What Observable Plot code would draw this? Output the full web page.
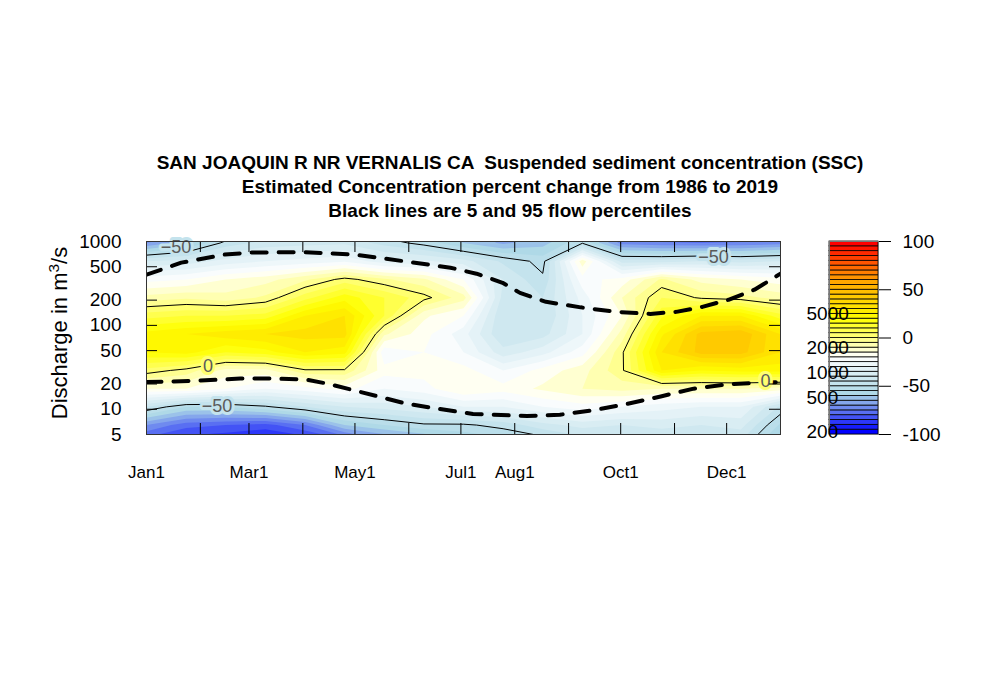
<!DOCTYPE html>
<html>
<head>
<meta charset="utf-8">
<script src="https://cdn.jsdelivr.net/npm/d3@7"></script>
<script src="https://cdn.jsdelivr.net/npm/@observablehq/plot@0.6"></script>
<style>
  html, body { margin: 0; padding: 0; background: #fff; }
  #wrap { position: relative; width: 1000px; height: 700px; overflow: hidden; font-family: "Liberation Sans", Arial, Helvetica, sans-serif; }
  #wrap > svg { position: absolute; top: 0; margin: 0; }
  #title { position: absolute; left: 0; top: 151px; width: 1020px; text-align: center; font-weight: bold; font-size: 19px; line-height: 24px; white-space: pre; color: #000; }
  #ylab { position: absolute; left: 60px; top: 333px; transform: translate(-50%, -50%) rotate(-90deg); font-size: 22px; white-space: nowrap; color: #000; }
  #ylab sup { font-size: 0.7em; line-height: 0; }
</style>
</head>
<body>
<div id="wrap">
  <div id="title"></div>
  <div id="ylab">Discharge in m<sup>3</sup>/s</div>
</div>
<script>
// ---------------- data ----------------
const titleLines = [
  "SAN JOAQUIN R NR VERNALIS CA  Suspended sediment concentration (SSC)",
  "Estimated Concentration percent change from 1986 to 2019",
  "Black lines are 5 and 95 flow percentiles"
];
const yTicks = [5, 10, 20, 50, 100, 200, 500, 1000];
const monthStartDays = [0, 31, 59, 90, 120, 151, 181, 212, 243, 273, 304, 334];
const xLabelDays = [0, 59, 120, 181, 212, 273, 334];
const xLabels = ["Jan1", "Mar1", "May1", "Jul1", "Aug1", "Oct1", "Dec1"];
const keyTicks = [-100, -50, 0, 50, 100];
const keyExtraLabels = [200, 500, 1000, 2000, 5000];

// surface grid: columns = day of year, rows = discharge in m3/s (top to bottom)
const gridDays = [0, 22.8, 45.6, 68.4, 91.3, 114.1, 136.9, 159.7, 182.5, 205.3, 228.1, 250.9, 273.8, 296.6, 319.4, 342.2, 365];
const gridQ = [1581, 959, 582, 353, 214, 130, 78.9, 47.9, 29.0, 17.6, 10.7, 6.49, 3.93];
const pctChange = [
  [-85, -80, -65, -58, -52, -50, -58, -62, -65, -72, -68, -62, -88, -90, -92, -92, -92],
  [-70, -62, -48, -43, -42, -41, -47, -52, -60, -66, -62, -50.5, -72, -74, -75, -74, -72],
  [-40, -38, -33, -30, -28, -26, -33, -34, -38, -46, -52, -12, -42, -42, -40, -42, -40],
  [-22, -20, -15, -12, -6, 2, -4, -9, -20, -40, -49, -22, -18, -4, -12, -15, -18],
  [-8, -6, -8, -4, 8, 18, 10, 2, -8, -42, -45, -28, -10, 5, -1, -3, -7],
  [8, 10, 10, 12, 25, 30, 10, -14, -20, -45, -45, -30, -15, 14, 25, 25, 12],
  [22, 25, 28, 30, 32, 32, -9, -18, -28, -45, -42, -30, -8, 24, 42, 44, 30],
  [20, 22, 15, 18, 25, 22, -24, -20, -25, -38, -32, -22, -1, 30, 42, 42, 30],
  [3, -2, -12, -12, -1, -1, -18, -18, -18, -25, -18, -12, -1, 25, 20, 22, 22],
  [-15, -15, -20, -25, -22, -18, -25, -22, -15, -18, -14, -10, -8, -10, -10, -10, -12],
  [-45, -55, -55, -51, -45, -40, -38, -35, -30, -30, -25, -22, -25, -28, -30, -30, -46],
  [-70, -78, -80, -82, -75, -60, -55, -51, -51, -48, -42, -38, -40, -38, -40, -38, -56],
  [-85, -90, -92, -95, -92, -85, -75, -70, -62, -58, -55, -50, -50, -48, -50, -46, -65]
];
const contourLineLevels = [-50, 0];

// 95th and 5th flow percentiles (m3/s)
const upperDays = [0, 20, 45, 60, 90, 120, 150, 175, 190, 205, 215, 230, 250, 270, 290, 305, 320, 335, 350, 365];
const upperQ = [402, 560, 698, 738, 748, 698, 575, 487, 413, 322, 244, 191, 164, 145, 137, 145, 166, 202, 266, 413];
const lowerDays = [0, 25, 54, 73, 92, 104, 121, 150, 181, 188, 219, 238, 257, 277, 296, 315, 334, 353, 365];
const lowerQ = [21.1, 21.7, 23.2, 23.2, 22.6, 20.2, 16.5, 11.6, 9.2, 8.8, 8.3, 8.6, 9.7, 11.6, 14.2, 17.6, 19.8, 20.8, 21.1];

// contour labels
const labelDays = [17, 35.4, 40.6, 326.4, 356.4];
const labelQ = [847, 33, 11.0, 652, 21.5];
const labelLevels = [-50, 0, -50, -50, 0];

// ---------------- scales / helpers ----------------
const lg = Math.log10;
const levels = d3.range(-100, 101, 5);
const paletteStops = ["blue", "lightblue", "white", "yellow", "orange", "red"];
const ramp = d3.piecewise(d3.interpolateRgb, paletteStops);
const palette = d3.range(levels.length - 1).map(i => ramp(i / (levels.length - 2)));
const colorScale = {type: "threshold", domain: levels.slice(1, -1), range: palette};

const W = gridDays.length, H = gridQ.length;
const dayStep = gridDays[1] - gridDays[0];
const logStep = lg(gridQ[0]) - lg(gridQ[1]);
const gx1 = gridDays[0] - dayStep / 2, gx2 = gridDays[W - 1] + dayStep / 2;
const gy1 = lg(gridQ[0]) + logStep / 2, gy2 = lg(gridQ[H - 1]) - logStep / 2;
const flat = pctChange.flat();

const upperData = upperDays.map((d, i) => ({day: d, lq: lg(upperQ[i])}));
const lowerData = lowerDays.map((d, i) => ({day: d, lq: lg(lowerQ[i])}));
const labelData = labelDays.map((d, i) => ({day: d, lq: lg(labelQ[i]), level: labelLevels[i]}));

const FONT = "'Liberation Sans', Arial, Helvetica, sans-serif";
const mL = 146, mR = 220, mT = 241, mB = 266;
const plotW = 1000 - mL - mR, plotH = 700 - mT - mB;
const tickLen = 11;

document.getElementById("title").textContent = titleLines.join("\n");

const grid = {width: W, height: H, x1: gx1, x2: gx2, y1: gy1, y2: gy2};
const yTickLogs = yTicks.map(lg);

const main = Plot.plot({
  width: 1000, height: 700,
  marginLeft: mL, marginRight: mR, marginTop: mT, marginBottom: mB,
  style: {fontFamily: FONT, fontSize: "17px", color: "#000", background: "transparent", overflow: "visible"},
  x: {domain: [0, 365]},
  y: {domain: [lg(yTicks[0]), lg(yTicks[yTicks.length - 1])]},
  color: colorScale,
  marks: [
    Plot.contour(flat, {...grid, fill: Plot.identity, thresholds: levels.slice(0, -1), clip: true}),
    Plot.contour(flat, {...grid, value: Plot.identity, thresholds: contourLineLevels, stroke: "#000", strokeWidth: 1, fill: "none", clip: true}),
    Plot.line(upperData, {x: "day", y: "lq", stroke: "#000", strokeWidth: 4, strokeDasharray: "15,12", clip: true}),
    Plot.line(lowerData, {x: "day", y: "lq", stroke: "#000", strokeWidth: 4, strokeDasharray: "15,12", clip: true}),
    Plot.text(labelData, {x: "day", y: "lq", text: d => d.level < 0 ? "\u2212" + (-d.level) : String(d.level),
      fill: "#5a5a5a", stroke: "level", strokeWidth: 6, paintOrder: "stroke", fontSize: 18}),
    Plot.tickY(yTickLogs, {y: d => d, insetRight: plotW - tickLen, stroke: "#000"}),
    Plot.tickY(yTickLogs, {y: d => d, insetLeft: plotW - tickLen, stroke: "#000"}),
    Plot.tickX(monthStartDays, {x: d => d, insetTop: plotH - tickLen, stroke: "#000"}),
    Plot.tickX(monthStartDays, {x: d => d, insetBottom: plotH - tickLen, stroke: "#000"}),
    Plot.frame({stroke: "#333"}),
    Plot.axisY({ticks: yTickLogs, tickSize: 0, tickPadding: 25, tickFormat: d => String(Math.round(10 ** d)), fontSize: 19, label: null}),
    Plot.axisX({ticks: xLabelDays, tickSize: 0, tickPadding: 31, tickFormat: d => xLabels[xLabelDays.indexOf(d)], fontSize: 17, label: null})
  ]
});
main.style.left = "0px";
document.getElementById("wrap").appendChild(main);

// colour key
const bands = levels.slice(0, -1).map((lo, i) => ({lo, hi: levels[i + 1]}));
const keyMargins = {width: 220, height: 700, marginLeft: 49, marginRight: 122, marginTop: mT, marginBottom: mB};
const key = Plot.plot({
  ...keyMargins,
  style: {fontFamily: FONT, fontSize: "19px", color: "#000", background: "transparent", overflow: "visible"},
  x: {domain: [0, 1], axis: null},
  y: {domain: [-100, 100]},
  color: colorScale,
  marks: [
    Plot.rect(bands, {x1: 0, x2: 1, y1: "lo", y2: "hi", fill: "lo", stroke: "#000", strokeWidth: 0.8}),
    Plot.frame({stroke: "#777"}),
    Plot.axisY({anchor: "right", ticks: keyTicks, tickSize: 12, tickPadding: 12, tickFormat: d => String(d), fontSize: 19, label: null})
  ]
});
key.style.left = "780px";
document.getElementById("wrap").appendChild(key);

// stray discharge labels printed over the key
const keyExtra = Plot.plot({
  ...keyMargins,
  style: {fontFamily: FONT, fontSize: "19px", color: "#000", background: "transparent", overflow: "visible"},
  y: {type: "log", domain: [200, 40000], axis: null},
  marks: [
    Plot.text(keyExtraLabels, {y: d => d, text: d => String(d), frameAnchor: "left", textAnchor: "start", dx: -23, dy: -3, fontSize: 19, fill: "#000"})
  ]
});
keyExtra.style.left = "780px";
document.getElementById("wrap").appendChild(keyExtra);
</script>
</body>
</html>
